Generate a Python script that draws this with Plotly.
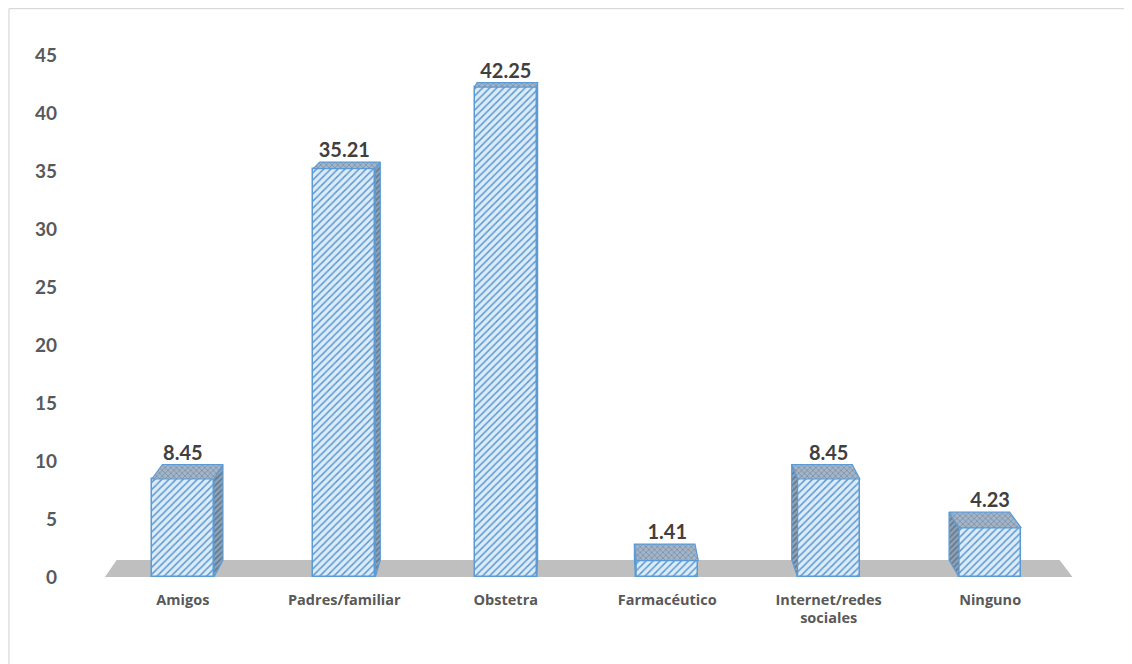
import plotly.graph_objects as go

categories = [
    "Amigos",
    "Padres/familiar",
    "Obstetra",
    "Farmacéutico",
    "Internet/redes<br>sociales",
    "Ninguno",
]
values = [8.45, 35.21, 42.25, 1.41, 8.45, 4.23]
value_labels = ["8.45", "35.21", "42.25", "1.41", "8.45", "4.23"]
y_ticks = [0, 5, 10, 15, 20, 25, 30, 35, 40, 45]

# pseudo 3d look: back faces are the front faces pulled toward a vanishing point
BAR_W = 0.385
VP_X, VP_Y = 2.38, 57.5
DEPTH = 0.0255
FLOOR_X0, FLOOR_X1 = -0.483, 5.51

FONT = "Lato, Open Sans, sans-serif"


def back(x, y):
    return x + DEPTH * (VP_X - x), y + DEPTH * (VP_Y - y)


xs = list(range(len(categories)))

fig = go.Figure()

fig.add_trace(
    go.Bar(
        x=xs,
        y=values,
        width=BAR_W,
        marker=dict(
            color="#ddebf7",
            line=dict(color="#5b9bd5", width=1.5),
            pattern=dict(
                shape="/",
                fgcolor="#5b9bd5",
                bgcolor="#ddebf7",
                size=5,
                solidity=0.3,
                fillmode="replace",
            ),
        ),
        hoverinfo="skip",
    )
)

top_x, top_y, side_x, side_y = [], [], [], []
label_x, label_y = [], []
for i, v in zip(xs, values):
    left, right = i - BAR_W / 2, i + BAR_W / 2
    bl = back(left, v)
    br = back(right, v)
    top_x += [left, right, br[0], bl[0], left, None]
    top_y += [v, v, br[1], bl[1], v, None]
    if right < VP_X:
        edge = right
    elif left > VP_X:
        edge = left
    else:
        edge = None
    if edge is not None:
        b0 = back(edge, 0)
        b1 = back(edge, v)
        side_x += [edge, edge, b1[0], b0[0], edge, None]
        side_y += [0, v, b1[1], b0[1], 0, None]
    label_x.append(i)
    label_y.append(max(bl[1], br[1]))

fig.add_trace(
    go.Scatter(
        x=side_x,
        y=side_y,
        mode="lines",
        fill="toself",
        fillcolor="#8ea4ba",
        fillpattern=dict(shape="/", fgcolor="#3e4f60", bgcolor="#8ea4ba", size=4, solidity=0.45),
        line=dict(color="#5b9bd5", width=1.2),
        hoverinfo="skip",
        showlegend=False,
    )
)
fig.add_trace(
    go.Scatter(
        x=top_x,
        y=top_y,
        mode="lines",
        fill="toself",
        fillcolor="#a3b5c8",
        fillpattern=dict(shape="x", fgcolor="#58697c", bgcolor="#a3b5c8", size=4, solidity=0.35),
        line=dict(color="#5b9bd5", width=1.2),
        hoverinfo="skip",
        showlegend=False,
    )
)
fig.add_trace(
    go.Scatter(
        x=label_x,
        y=label_y,
        mode="text",
        text=value_labels,
        textposition="top center",
        textfont=dict(family=FONT, size=20, color="#404040", weight="bold"),
        hoverinfo="skip",
        showlegend=False,
        cliponaxis=False,
    )
)

fb0 = back(FLOOR_X0, 0)
fb1 = back(FLOOR_X1, 0)
floor_path = (
    f"M {FLOOR_X0},0 L {fb0[0]},{fb0[1]} L {fb1[0]},{fb1[1]} L {FLOOR_X1},0 Z"
)

fig.update_layout(
    width=1124,
    height=656,
    margin=dict(l=78, r=45, t=24, b=87),
    paper_bgcolor="white",
    plot_bgcolor="white",
    showlegend=False,
    bargap=0,
    shapes=[
        dict(
            type="path",
            path=floor_path,
            xref="x",
            yref="y",
            fillcolor="#bfbfbf",
            line=dict(width=0),
            layer="below",
        ),
        dict(
            type="line",
            xref="paper",
            yref="paper",
            x0=-0.077,
            x1=1.1,
            y0=1.043,
            y1=1.043,
            line=dict(color="#d9d9d9", width=1.2),
        ),
        dict(
            type="line",
            xref="paper",
            yref="paper",
            x0=-0.077,
            x1=-0.077,
            y0=1.043,
            y1=-0.2,
            line=dict(color="#d9d9d9", width=1.2),
        ),
    ],
)

fig.update_xaxes(
    range=[-0.6, 5.6],
    tickvals=xs,
    ticktext=categories,
    showgrid=False,
    zeroline=False,
    showline=False,
    ticks="",
    ticklabelstandoff=12,
    tickfont=dict(family="Open Sans, sans-serif", size=14.5, color="#595959", weight="bold"),
)
fig.update_yaxes(
    range=[0, 47],
    tickvals=y_ticks,
    showgrid=False,
    zeroline=False,
    showline=False,
    ticks="",
    ticklabelstandoff=28,
    tickfont=dict(family=FONT, size=19, color="#595959", weight="bold"),
)

fig.write_html("out.html")
